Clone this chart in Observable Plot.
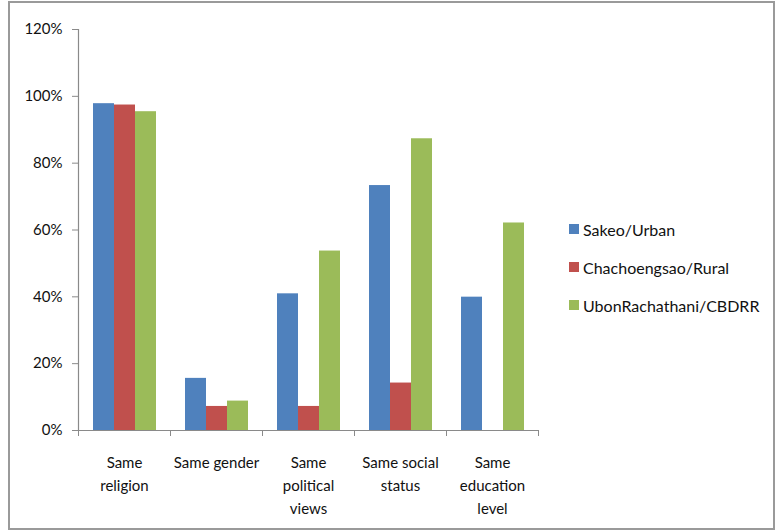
<!DOCTYPE html>
<html>
<head>
<meta charset="utf-8">
<script src="https://cdn.jsdelivr.net/npm/d3@7"></script>
<script src="https://cdn.jsdelivr.net/npm/@observablehq/plot@0.6"></script>
<style>
  body { margin: 0; background: #fff; }
  #wrap { position: relative; width: 775px; height: 531px; overflow: hidden; font-family: Lato, sans-serif; color: #111; }
  #border { position: absolute; left: 8px; top: 1px; width: 763px; height: 525px; border: 2px solid #9a9a9a; box-sizing: content-box; }
  #chart { position: absolute; left: 0; top: 0; }
  #legend { position: absolute; left: 569px; top: 210px; font-size: 16px; }
  .sw { display: flex; align-items: center; height: 38px; white-space: nowrap; }
  .sw i { display: inline-block; width: 10px; height: 10px; margin-right: 4px; }
</style>
</head>
<body>
<div id="wrap">
  <div id="border"></div>
  <div id="chart"></div>
  <div id="legend"></div>
</div>
<script>
const categories = ["Same religion", "Same gender", "Same political views", "Same social status", "Same education level"];
const tickLabels = ["Same\nreligion", "Same gender", "Same\npolitical\nviews", "Same social\nstatus", "Same\neducation\nlevel"];
const series = ["Sakeo/Urban", "Chachoengsao/Rural", "UbonRachathani/CBDRR"];
const sakeoUrban = [97.8, 15.6, 40.9, 73.3, 39.9];
const chachoengsaoRural = [97.4, 7.2, 7.2, 14.2, 0];
const ubonCBDRR = [95.4, 8.8, 53.7, 87.3, 62.1];
const colors = ["#4F81BD", "#C0504D", "#9BBB59"];
const yTicks = [0, 20, 40, 60, 80, 100, 120];

const seriesValues = [sakeoUrban, chachoengsaoRural, ubonCBDRR];
const data = [];
categories.forEach((c, i) => series.forEach((s, j) => data.push({category: c, series: s, value: seriesValues[j][i]})));

const W = 775, H = 531, ML = 78, MR = 237, MT = 29, MB = 101;
const step = (W - ML - MR) / categories.length;

const chart = Plot.plot({
  width: W, height: H,
  marginLeft: ML, marginRight: MR, marginTop: MT, marginBottom: MB,
  style: {fontFamily: "Lato, sans-serif", fontSize: "15px", color: "#111", background: "transparent"},
  fx: {domain: categories, padding: 0, label: null},
  x: {domain: series, paddingInner: 0, paddingOuter: 0.69, axis: null},
  y: {domain: [0, 120], label: null},
  color: {domain: series, range: colors},
  marks: [
    Plot.barY(data, {fx: "category", x: "series", y: "value", fill: "series"}),
    Plot.ruleY([0], {stroke: "#8a8a8a", strokeWidth: 1.2}),
    Plot.frame({anchor: "left", stroke: "#8a8a8a", strokeWidth: 1.2, facetAnchor: "left"}),
    Plot.axisY({ticks: yTicks, tickFormat: d => d + "%", tickSize: 6, tickPadding: 10, stroke: "#8a8a8a", fontSize: 15, label: null}),
    Plot.axisFx({anchor: "bottom", tickSize: 0, tickPadding: 21, fontSize: 15, lineHeight: 1.53, label: null,
      tickFormat: d => tickLabels[categories.indexOf(d)]}),
    Plot.axisFx({anchor: "bottom", tickSize: 6, stroke: "#8a8a8a", label: null, tickFormat: () => "", dx: -step / 2}),
    Plot.axisFx({anchor: "bottom", ticks: [categories[categories.length - 1]], tickSize: 6, stroke: "#8a8a8a", label: null, tickFormat: () => "", dx: step / 2})
  ]
});
document.getElementById("chart").appendChild(chart);

const legend = document.getElementById("legend");
series.forEach((s, j) => {
  const row = document.createElement("div");
  row.className = "sw";
  const sw = document.createElement("i");
  sw.style.background = colors[j];
  row.appendChild(sw);
  row.appendChild(document.createTextNode(s));
  legend.appendChild(row);
});
</script>
</body>
</html>
